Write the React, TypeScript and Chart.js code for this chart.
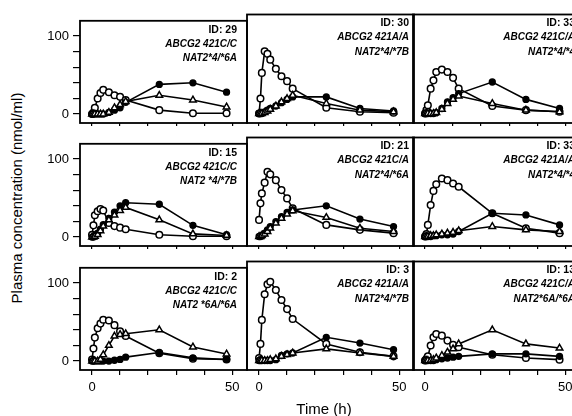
import React, { useEffect, useRef } from "react";
import { Chart, registerables } from "chart.js";
Chart.register(...registerables);

// Sampling times (h)
const times = [0, 0.5, 1, 2, 3, 4, 6, 8, 10, 12, 24, 36, 48];
const yTicks = [0, 20, 40, 60, 80, 100];
const xTicks = [0, 10, 20, 30, 40, 50];
const yTickLabels = [0, 100];
const xTickLabels = [0, 50];

const panelIds = ["ID: 29", "ID: 30", "ID: 33", "ID: 15", "ID: 21", "ID: 33", "ID: 2", "ID: 3", "ID: 13"];
const abcg2Labels = ["ABCG2 421C/C", "ABCG2 421A/A", "ABCG2 421C/A", "ABCG2 421C/C", "ABCG2 421C/A", "ABCG2 421A/A", "ABCG2 421C/C", "ABCG2 421A/A", "ABCG2 421C/A"];
const nat2Labels = ["NAT2*4/*6A", "NAT2*4/*7B", "NAT2*4/*4", "NAT2 *4/*7B", "NAT2*4/*6A", "NAT2*4/*4", "NAT2 *6A/*6A", "NAT2*4/*7B", "NAT2*6A/*6A"];

// Open circles
const id29Open = [0, 2, 8, 20, 27, 31, 28, 24, 22, 18, 5, 1, 1];
const id30Open = [0, 18, 49, 75, 72, 65, 54, 45, 39, 30, 7, 2, 1];
const id33aOpen = [0, 4, 10, 30, 40, 50, 53, 50, 43, 30, 9, 4, 2];
const id15Open = [3, 15, 28, 33, 36, 34, 18, 14, 12, 10, 3, 1, 1];
const id21Open = [20, 40, 52, 65, 78, 75, 68, 56, 46, 34, 14, 8, 4];
const id33bOpen = [0, 3, 14, 38, 55, 63, 70, 68, 64, 60, 28, 10, 4];
const id2Open = [2, 16, 30, 42, 48, 53, 52, 46, 38, 32, 10, 3, 2];
const id3Open = [3, 20, 49, 80, 92, 95, 85, 73, 62, 50, 20, 10, 5];
const id13Open = [0, 2, 5, 18, 28, 32, 30, 24, 19, 16, 7, 3, 1];

// Filled circles
const id29Filled = [0, 0, 0, 0, 0, 0, 2, 5, 8, 15, 38, 40, 28];
const id30Filled = [0, 0, 0, 2, 4, 6, 9, 13, 17, 20, 20, 6, 3];
const id33aFilled = [0, 0, 0, 0, 0, 1, 6, 14, 19, 24, 38, 17, 6];
const id15Filled = [0, 0, 2, 5, 10, 16, 24, 32, 40, 44, 42, 15, 3];
const id21Filled = [0, 0, 1, 4, 8, 12, 18, 24, 29, 32, 37, 21, 12];
const id33bFilled = [0, 0, 0, 0, 1, 1, 2, 2, 3, 6, 28, 26, 14];
const id2Filled = [0, 0, 0, 0, 0, 0, 0, 1, 2, 5, 11, 4, 2];
const id3Filled = [0, 0, 0, 0, 0, 0, 1, 6, 8, 9, 28, 21, 13];
const id13Filled = [0, 0, 0, 0, 0, 1, 2, 3, 4, 5, 8, 8, 5];

// Triangles
const id29Tri = [0, 0, 0, 0, 0, 0, 2, 8, 12, 16, 24, 18, 9];
const id30Tri = [0, 0, 0, 1, 3, 5, 9, 14, 18, 22, 12, 4, 2];
const id33aTri = [0, 0, 0, 0, 0, 1, 5, 12, 17, 21, 12, 4, 2];
const id15Tri = [0, 0, 1, 3, 8, 14, 22, 28, 34, 38, 22, 4, 2];
const id21Tri = [0, 0, 1, 3, 6, 10, 16, 22, 27, 31, 23, 10, 6];
const id33bTri = [0, 0, 0, 1, 1, 2, 3, 4, 5, 7, 12, 8, 6];
const id2Tri = [0, 0, 0, 0, 2, 8, 20, 32, 34, 35, 40, 18, 9];
const id3Tri = [0, 0, 0, 0, 0, 1, 2, 5, 7, 9, 14, 9, 5];
const id13Tri = [0, 0, 0, 0, 1, 3, 6, 10, 14, 20, 37, 20, 15];

const openSeries = [id29Open, id30Open, id33aOpen, id15Open, id21Open, id33bOpen, id2Open, id3Open, id13Open];
const filledSeries = [id29Filled, id30Filled, id33aFilled, id15Filled, id21Filled, id33bFilled, id2Filled, id3Filled, id13Filled];
const triSeries = [id29Tri, id30Tri, id33aTri, id15Tri, id21Tri, id33bTri, id2Tri, id3Tri, id13Tri];

const FONT = 'Arial, "Liberation Sans", Helvetica, sans-serif';

// Layout (pixels)
const PANEL_LEFT = [80, 247, 413];
const PANEL_TOP = [14, 137, 261];
const PANEL_W = 167;
const PANEL_H = 109;
const AXIS_W = 45;
const AXIS_H = 30;
const PAD_T = 5;
const PAD_R = 8;
const TEXT_PAD = [10, 5, 5];
const NONE = "rgba(0,0,0,0)";

const decorPlugin = {
  id: "decor",
  afterDatasetsDraw(chart: any, _args: any, opts: any) {
    const { ctx, chartArea: ca } = chart;
    ctx.save();
    ctx.strokeStyle = "#000";
    ctx.lineWidth = 1.8;
    ctx.strokeRect(ca.left, ca.top, ca.right - ca.left, ca.bottom - ca.top);
    ctx.fillStyle = "#000";
    ctx.textAlign = "right";
    ctx.textBaseline = "middle";
    const x = ca.right - opts.pad;
    ctx.font = `bold 10.5px ${FONT}`;
    ctx.fillText(opts.id, x, ca.top + 9);
    ctx.font = `italic bold 10px ${FONT}`;
    ctx.fillText(opts.abcg2, x, ca.top + 23);
    ctx.fillText(opts.nat2, x, ca.top + 37.5);
    ctx.restore();
  },
};

function series(values: number[], style: string, fill: string, radius: number) {
  return {
    data: times.map((t, i) => ({ x: t, y: values[i] })),
    borderColor: "#000",
    borderWidth: 1.6,
    pointStyle: style,
    pointRadius: radius,
    pointBackgroundColor: fill,
    pointBorderColor: "#000",
    pointBorderWidth: 1.5,
    tension: 0,
    fill: false,
  };
}

function Panel({ r, c }: { r: number; c: number }) {
  const ref = useRef<HTMLCanvasElement>(null);
  useEffect(() => {
    const k = r * 3 + c;
    const showY = c === 0;
    const showX = r === 2;
    const chart = new Chart(ref.current as HTMLCanvasElement, {
      type: "line",
      data: {
        datasets: [
          series(triSeries[k], "triangle", "#fff", 3.8),
          series(filledSeries[k], "circle", "#000", 2.9),
          series(openSeries[k], "circle", "#fff", 3.3),
        ] as any,
      },
      options: {
        animation: false,
        responsive: false,
        devicePixelRatio: 1,
        layout: { padding: { top: PAD_T, right: PAD_R, left: 0, bottom: 0 } },
        plugins: {
          legend: { display: false },
          tooltip: { enabled: false },
          decor: { id: panelIds[k], abcg2: abcg2Labels[k], nat2: nat2Labels[k], pad: TEXT_PAD[c] },
        } as any,
        scales: {
          x: {
            type: "linear",
            min: -4.3,
            max: 55.3,
            afterBuildTicks: (s: any) => {
              s.ticks = xTicks.map((v) => ({ value: v }));
            },
            afterFit: (s: any) => {
              s.height = AXIS_H;
            },
            grid: { display: true, drawOnChartArea: false, drawTicks: true, tickLength: showX ? 5 : 3, color: "#000", lineWidth: 1.2 },
            border: { display: false },
            ticks: {
              display: showX,
              autoSkip: false,
              maxRotation: 0,
              padding: 5,
              color: "#000",
              font: { family: FONT, size: 13 },
              callback: (v: any) => (xTickLabels.includes(Number(v)) ? String(v) : ""),
            },
          },
          y: {
            type: "linear",
            min: -11.5,
            max: 119.5,
            afterBuildTicks: (s: any) => {
              s.ticks = yTicks.map((v) => ({ value: v }));
            },
            afterFit: (s: any) => {
              s.width = AXIS_W;
            },
            grid: {
              display: showY,
              drawOnChartArea: false,
              drawTicks: showY,
              tickLength: showY ? 7 : 0,
              color: showY ? "#000" : NONE,
              lineWidth: 1.2,
            },
            border: { display: false },
            ticks: {
              display: showY,
              autoSkip: false,
              padding: 4,
              color: showY ? "#000" : NONE,
              font: { family: FONT, size: 13 },
              callback: (v: any) => (yTickLabels.includes(Number(v)) ? String(v) : ""),
            },
          },
        },
      } as any,
      plugins: [decorPlugin],
    });
    return () => chart.destroy();
  }, [r, c]);
  return (
    <canvas
      ref={ref}
      width={AXIS_W + PANEL_W + PAD_R}
      height={PAD_T + PANEL_H + AXIS_H}
      style={{ position: "absolute", left: PANEL_LEFT[c] - AXIS_W, top: PANEL_TOP[r] - PAD_T }}
    />
  );
}

export default function App() {
  const cells = [];
  for (let r = 0; r < 3; r++) for (let c = 0; c < 3; c++) cells.push(<Panel key={`${r}-${c}`} r={r} c={c} />);
  return (
    <div style={{ position: "fixed", left: 0, top: 0, width: 572, height: 416, overflow: "hidden", background: "#fff" }}>
      {cells}
      <div
        style={{
          position: "absolute",
          left: 324,
          top: 408,
          transform: "translate(-50%, -50%)",
          font: `15px ${FONT}`,
          color: "#000",
          whiteSpace: "nowrap",
        }}
      >
        Time (h)
      </div>
      <div
        style={{
          position: "absolute",
          left: 16,
          top: 198,
          transform: "translate(-50%, -50%) rotate(-90deg)",
          font: `15px ${FONT}`,
          color: "#000",
          whiteSpace: "nowrap",
        }}
      >
        Plasma concentration (nmol/ml)
      </div>
    </div>
  );
}
